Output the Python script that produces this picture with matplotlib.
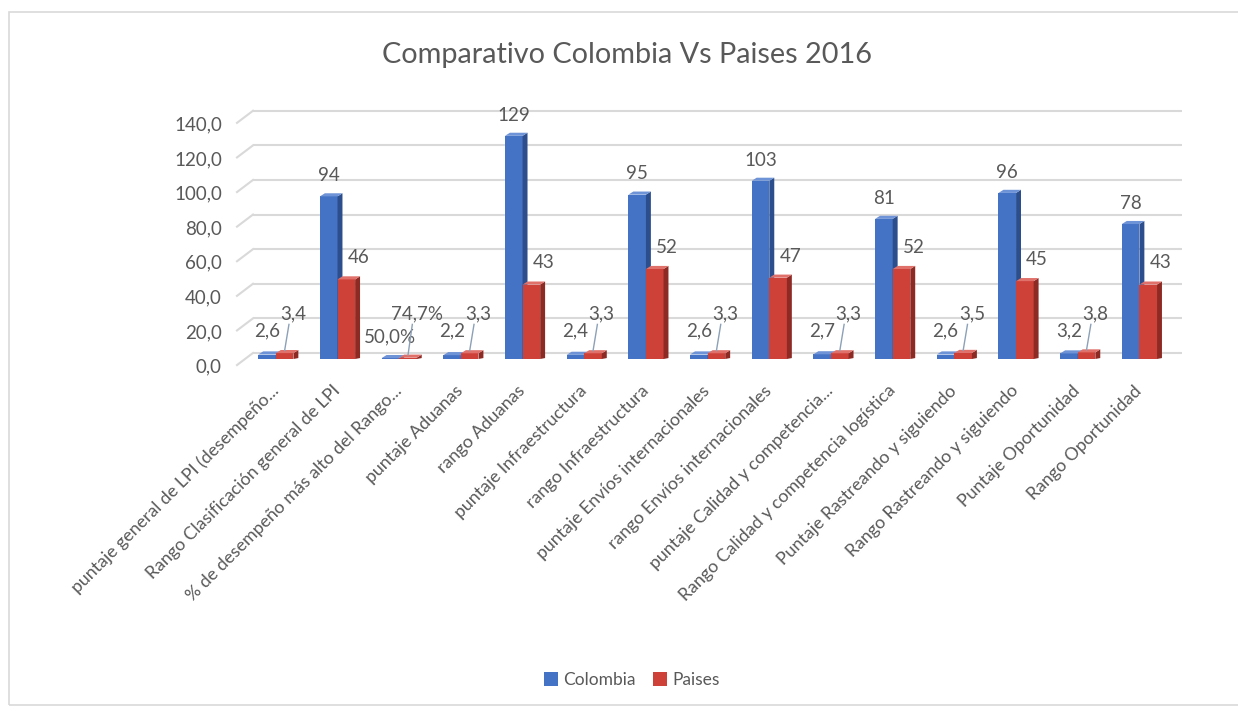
import numpy as np
import matplotlib
matplotlib.use("Agg")
import matplotlib.pyplot as plt
from matplotlib.patches import Polygon, Rectangle
from matplotlib.transforms import ScaledTranslation

plt.rcParams['font.family'] = ['Lato', 'DejaVu Sans']

# ---- datos ----
categorias = [
    "puntaje general de LPI (desempeño...",
    "Rango Clasificación general de LPI",
    "% de desempeño más alto del Rango...",
    "puntaje Aduanas",
    "rango Aduanas",
    "puntaje Infraestructura",
    "rango Infraestructura",
    "puntaje Envíos internacionales",
    "rango Envíos internacionales",
    "puntaje Calidad y competencia...",
    "Rango Calidad y competencia logística",
    "Puntaje Rastreando y siguiendo",
    "Rango Rastreando y siguiendo",
    "Puntaje Oportunidad",
    "Rango Oportunidad",
]
colombia = [2.6, 94, 0.5, 2.2, 129, 2.4, 95, 2.6, 103, 2.7, 81, 2.6, 96, 3.2, 78]
paises = [3.4, 46, 0.747, 3.3, 43, 3.3, 52, 3.3, 47, 3.3, 52, 3.5, 45, 3.8, 43]
etiq_colombia = ["2,6", "94", "50,0%", "2,2", "129", "2,4", "95", "2,6", "103", "2,7", "81", "2,6", "96", "3,2", "78"]
etiq_paises = ["3,4", "46", "74,7%", "3,3", "43", "3,3", "52", "3,3", "47", "3,3", "52", "3,5", "45", "3,8", "43"]
yticks = [0, 20, 40, 60, 80, 100, 120, 140]
ytick_labels = ["0,0", "20,0", "40,0", "60,0", "80,0", "100,0", "120,0", "140,0"]

GRIS = "#595959"
series = [
    ("Colombia", colombia, etiq_colombia, "#4472C4", "#2C4E8C", "#6E93D6"),
    ("Paises", paises, etiq_paises, "#CD4139", "#8E2A24", "#E0706A"),
]

fig = plt.figure(figsize=(12.38, 7.11), dpi=100)
W, H = 1238, 711
ax = fig.add_axes([245 / W, 1 - 359 / H, 937 / W, 242.2 / H])
ax.set_xlim(-0.5, 14.69)
ax.set_ylim(0, 140)
for s in ax.spines.values():
    s.set_visible(False)
ax.set_yticks([])

# marco del gráfico
fig.patches.append(Rectangle((9 / W, 6 / H), 1.2, 1 - 12 / H - 6 / H, transform=fig.transFigure,
                             fill=False, edgecolor="#D9D9D9", lw=1.2, zorder=0))

# líneas de cuadrícula (pared del fondo) y etiquetas del eje (frente)
off_grid = ax.get_yaxis_transform() + ScaledTranslation(0, 6 / 100, fig.dpi_scale_trans)
ax.hlines(yticks, 8 / 937, 1, transform=off_grid, colors="#D9D9D9", lw=1.5, clip_on=False, zorder=0)
for v in yticks:
    ax.plot([-8 / 937, 8 / 937], [v - 3.5, v + 3.5], transform=ax.get_yaxis_transform(),
            color="#D9D9D9", lw=1.5, clip_on=False, zorder=0)
off_lab = ax.get_yaxis_transform() + ScaledTranslation(-23 / 100, -8 / 100, fig.dpi_scale_trans)
for v, t in zip(yticks, ytick_labels):
    ax.text(0, v, t, transform=off_lab, ha="right", va="center", fontsize=13.5, color=GRIS)

# barras con efecto 3D
w = 0.285
dx, dy = 0.08, 1.8
x = np.arange(len(categorias))
handles = []
for k, (nombre, vals, etiq, c_front, c_side, c_top) in enumerate(series):
    left = x - w + k * w
    b = ax.bar(left, vals, width=w, align="edge", color=c_front, edgecolor="none", zorder=3 + k, label=nombre)
    handles.append(b)
    for xl, v in zip(left, vals):
        xr = xl + w
        ax.add_patch(Polygon([(xr, 0), (xr + dx, dy * 0.3), (xr + dx, v + dy), (xr, v)],
                             closed=True, facecolor=c_side, edgecolor="none", zorder=3 + k))
        ax.add_patch(Polygon([(xl, v), (xl + dx, v + dy), (xr + dx, v + dy), (xr, v)],
                             closed=True, facecolor=c_top, edgecolor="none", zorder=3 + k))

# etiquetas de datos
for i in x:
    vb, vr = colombia[i], paises[i]
    cb, cr = i - w / 2, i + w / 2
    if vb > 20:
        ax.text(cb, vb + 12, etiq_colombia[i], ha="center", va="center", fontsize=13.5, color=GRIS, zorder=6)
        ax.text(cr + 0.2, vr + 12.5, etiq_paises[i], ha="center", va="center", fontsize=13.5, color=GRIS, zorder=6)
    else:
        yb = 13 if "%" in etiq_colombia[i] else 16
        ax.text(cb, yb, etiq_colombia[i], ha="center", va="center", fontsize=13.5, color=GRIS, zorder=6)
        ax.text(cr + 0.14, 26, etiq_paises[i], ha="center", va="center", fontsize=13.5, color=GRIS, zorder=6)
        ax.plot([cr, cr + 0.07], [vr + 1.5, 20], color="#8CA0B8", lw=1, zorder=6)

# etiquetas del eje x
ax.set_xticks(x)
ax.set_xticklabels(categorias, rotation=45, ha="right", va="center", rotation_mode="anchor",
                   fontsize=12.8, color=GRIS)
ax.tick_params(axis="x", length=0, pad=21)

fig.text(627 / W, 1 - 55 / H, "Comparativo Colombia Vs Paises 2016", ha="center", va="center",
         fontsize=20.8, color=GRIS)

fig.legend(handles=handles, loc="center", bbox_to_anchor=(632 / W, 1 - 680 / H), ncol=2, frameon=False,
           fontsize=12.5, labelcolor=GRIS, handlelength=0.8, handleheight=0.8, handletextpad=0.3,
           columnspacing=1.0)

fig.savefig("out.png", dpi=100)
